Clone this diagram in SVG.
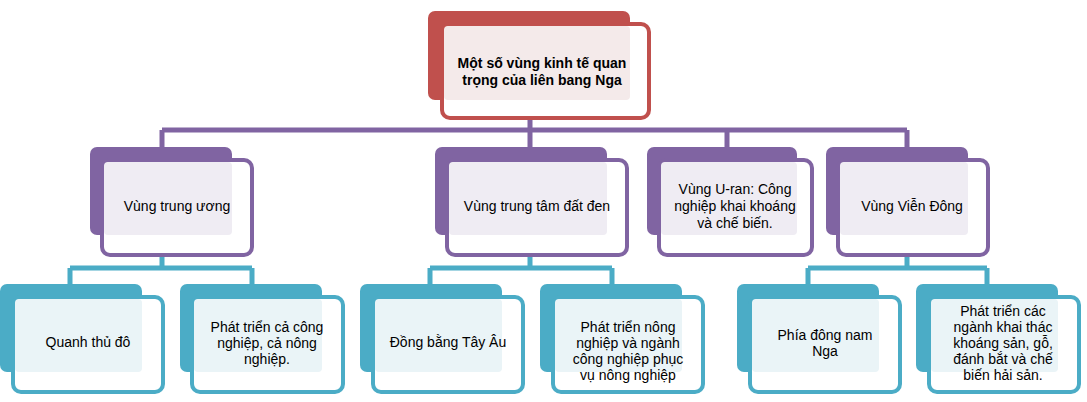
<svg xmlns="http://www.w3.org/2000/svg" width="1087" height="402" viewBox="0 0 1087 402">
<style>
text{font-family:"Liberation Sans",Arial,sans-serif;font-size:14px;fill:#000;text-anchor:middle}
.t{font-weight:bold}
.r .b{fill:#c0504d}.r .f{fill:#fff;stroke:#c0504d;stroke-width:4}.r .i{fill:#f4eaea}
.p .b{fill:#8064a2}.p .f{fill:#fff;stroke:#8064a2;stroke-width:4}.p .i{fill:#efecf3}
.c .b{fill:#4bacc6}.c .f{fill:#fff;stroke:#4bacc6;stroke-width:4}.c .i{fill:#eaf4f7}
.lp{stroke:#8064a2;stroke-width:5;fill:none}.lc{stroke:#4bacc6;stroke-width:5;fill:none}
</style>
<g id="connectors">
<path class="lp" d="M530 118V130M162 130H907M162 130V147M530 130V147M727 130V147M907 130V147"/>
<path class="lc" d="M162 255V268M70 268H252M70 268V284M252 268V284"/>
<path class="lc" d="M530 255V268M430 268H612M430 268V284M612 268V284"/>
<path class="lc" d="M907 255V268M808 268H987M808 268V284M987 268V284"/>
</g>
<g id="n0" class="r"><rect class="b" x="428" y="11" width="202" height="89" rx="7"/><rect class="f" x="442" y="24" width="207" height="94" rx="8"/><rect class="i" x="444" y="26" width="186" height="74" rx="4"/>
<text class="t" x="542" y="68">Một số vùng kinh tế quan</text><text class="t" x="542" y="85">trọng của liên bang Nga</text></g>
<g id="n1" class="p"><rect class="b" x="90" y="147" width="142" height="88" rx="7"/><rect class="f" x="102" y="160" width="150" height="95" rx="8"/><rect class="i" x="104" y="162" width="128" height="73" rx="4"/>
<text x="177" y="211">Vùng trung  ương</text></g>
<g id="n2" class="p"><rect class="b" x="435" y="147" width="172" height="88" rx="7"/><rect class="f" x="447" y="160" width="180" height="95" rx="8"/><rect class="i" x="449" y="162" width="158" height="73" rx="4"/>
<text x="537" y="211">Vùng trung tâm đất đen</text></g>
<g id="n3" class="p"><rect class="b" x="647" y="147" width="150" height="88" rx="7"/><rect class="f" x="659" y="160" width="153" height="95" rx="8"/><rect class="i" x="661" y="162" width="136" height="73" rx="4"/>
<text x="735" y="194">Vùng U-ran: Công</text><text x="735" y="211">nghiệp khai khoáng</text><text x="735" y="228">và chế biến.</text></g>
<g id="n4" class="p"><rect class="b" x="826" y="147" width="142" height="88" rx="7"/><rect class="f" x="838" y="160" width="150" height="95" rx="8"/><rect class="i" x="840" y="162" width="128" height="73" rx="4"/>
<text x="912" y="211">Vùng Viễn Đông</text></g>
<g id="n5" class="c"><rect class="b" x="0" y="284" width="142" height="88" rx="7"/><rect class="f" x="13" y="297" width="150" height="95" rx="8"/><rect class="i" x="15" y="299" width="127" height="73" rx="4"/>
<text x="88" y="347">Quanh thủ đô</text></g>
<g id="n6" class="c"><rect class="b" x="180" y="284" width="142" height="88" rx="7"/><rect class="f" x="192" y="297" width="151" height="95" rx="8"/><rect class="i" x="194" y="299" width="128" height="73" rx="4"/>
<text x="267" y="332">Phát triển cả công</text><text x="267" y="348">nghiệp, cả nông</text><text x="267" y="364">nghiệp.</text></g>
<g id="n7" class="c"><rect class="b" x="360" y="284" width="142" height="88" rx="7"/><rect class="f" x="373" y="297" width="150" height="95" rx="8"/><rect class="i" x="375" y="299" width="127" height="73" rx="4"/>
<text x="448" y="347">Đồng bằng  Tây Âu</text></g>
<g id="n8" class="c"><rect class="b" x="540" y="284" width="142" height="88" rx="7"/><rect class="f" x="553" y="297" width="150" height="95" rx="8"/><rect class="i" x="555" y="299" width="127" height="73" rx="4"/>
<text x="628" y="332">Phát triển nông</text><text x="628" y="348">nghiệp và ngành</text><text x="628" y="364">công nghiệp phục</text><text x="628" y="380">vụ nông nghiệp</text></g>
<g id="n9" class="c"><rect class="b" x="737" y="284" width="142" height="88" rx="7"/><rect class="f" x="750" y="297" width="150" height="95" rx="8"/><rect class="i" x="752" y="299" width="127" height="73" rx="4"/>
<text x="825" y="340">Phía đông nam</text><text x="825" y="356">Nga</text></g>
<g id="n10" class="c"><rect class="b" x="916" y="284" width="142" height="88" rx="7"/><rect class="f" x="929" y="297" width="150" height="95" rx="8"/><rect class="i" x="931" y="299" width="127" height="73" rx="4"/>
<text x="1003" y="316">Phát triển các</text><text x="1003" y="332">ngành khai thác</text><text x="1003" y="348">khoáng sản, gỗ,</text><text x="1003" y="364">đánh bắt và chế</text><text x="1003" y="380">biến hải sản.</text></g>
</svg>
